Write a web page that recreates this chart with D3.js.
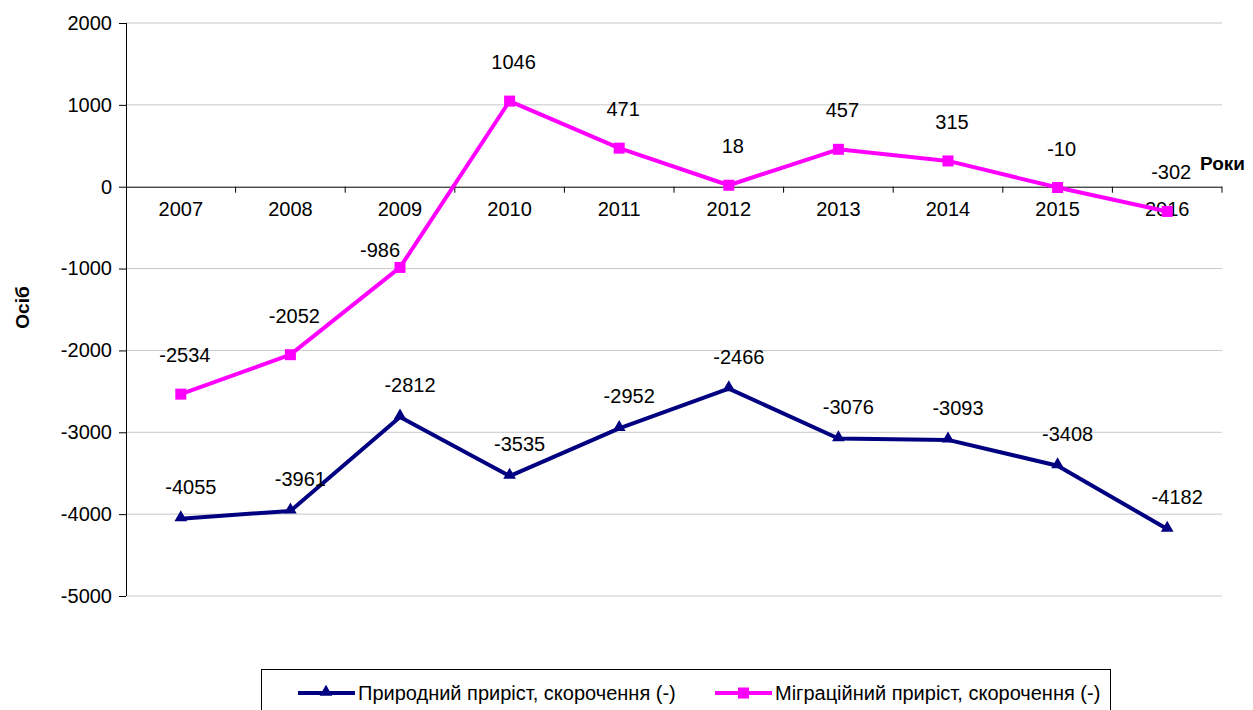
<!DOCTYPE html>
<html>
<head>
<meta charset="utf-8">
<script src="https://cdn.jsdelivr.net/npm/d3@7"></script>
<style>
  body { margin: 0; background: #fff; }
  text { font-family: "Liberation Sans", Arial, sans-serif; }
</style>
</head>
<body>
<div id="chart-area"></div>
<script>
const W = 1253, H = 710
const PLOT = { LEFT: 126, RIGHT: 1222, TOP: 23, BOTTOM: 596 }
const FS = 20

// data
const years = ["2007", "2008", "2009", "2010", "2011", "2012", "2013", "2014", "2015", "2016"]
const natural = [-4055, -3961, -2812, -3535, -2952, -2466, -3076, -3093, -3408, -4182]
const migration = [-2534, -2052, -986, 1046, 471, 18, 457, 315, -10, -302]
const yTicks = [2000, 1000, 0, -1000, -2000, -3000, -4000, -5000]
const seriesNames = ["Природний приріст, скорочення (-)", "Міграційний приріст, скорочення (-)"]

const svg = d3.select("#chart-area").append("svg")
  .attr("width", W)
  .attr("height", H)

const x = d3.scaleBand().domain(years).range([PLOT.LEFT, PLOT.RIGHT])
const y = d3.scaleLinear().domain([-5000, 2000]).range([PLOT.BOTTOM, PLOT.TOP])
const cx = d => x(d) + x.bandwidth() / 2

// gridlines
svg.append("g")
  .selectAll("line")
  .data(yTicks.filter(t => t !== 0))
  .join("line")
  .attr("x1", PLOT.LEFT).attr("x2", PLOT.RIGHT)
  .attr("y1", d => y(d)).attr("y2", d => y(d))
  .attr("stroke", "#c8c8c8")
  .attr("stroke-width", 1)

// y axis
const yAxis = svg.append("g")
  .attr("transform", `translate(${PLOT.LEFT},0)`)
  .call(d3.axisLeft(y).tickValues(yTicks).tickSize(7).tickPadding(7).tickFormat(d => String(d)))
yAxis.select(".domain").attr("stroke", "#000").attr("d", `M0.5,${PLOT.TOP}V${PLOT.BOTTOM}`)
yAxis.selectAll(".tick line").attr("stroke", "#000")
yAxis.selectAll("text").attr("font-size", FS).attr("fill", "#000").attr("font-family", "Liberation Sans, Arial, sans-serif")

// x axis at zero
const xAxis = svg.append("g")
  .attr("transform", `translate(0,${y(0)})`)
  .call(d3.axisBottom(x).tickSize(0).tickPadding(15))
xAxis.select(".domain").attr("stroke", "#000").attr("d", `M${PLOT.LEFT},0.5H${PLOT.RIGHT}`)
xAxis.selectAll("text").attr("font-size", FS).attr("fill", "#000").attr("font-family", "Liberation Sans, Arial, sans-serif")
xAxis.selectAll(".bound")
  .data(years)
  .join("line")
  .attr("x1", d => x(d) + x.bandwidth()).attr("x2", d => x(d) + x.bandwidth())
  .attr("y1", 0).attr("y2", 6)
  .attr("stroke", "#000")

// axis titles
svg.append("text")
  .attr("transform", `translate(29,${y(-1500) - 2}) rotate(-90)`)
  .attr("text-anchor", "middle")
  .attr("font-size", 19)
  .attr("font-weight", "bold")
  .text("Осіб")

svg.append("text")
  .attr("x", 1200).attr("y", 170)
  .attr("font-size", 19)
  .attr("font-weight", "bold")
  .text("Роки")

const line = d3.line().x((d, i) => cx(years[i])).y(d => y(d))

// migration
svg.append("path")
  .datum(migration)
  .attr("d", line)
  .attr("fill", "none")
  .attr("stroke", "#ff00ff")
  .attr("stroke-width", 4)
  .attr("stroke-linejoin", "round")
svg.selectAll(".msq")
  .data(migration)
  .join("rect")
  .attr("x", (d, i) => cx(years[i]) - 5.5)
  .attr("y", d => y(d) - 5.5)
  .attr("width", 11).attr("height", 11)
  .attr("fill", "#ff00ff")

// natural
svg.append("path")
  .datum(natural)
  .attr("d", line)
  .attr("fill", "none")
  .attr("stroke", "#000080")
  .attr("stroke-width", 4)
  .attr("stroke-linejoin", "round")
const tri = d3.symbol().type(d3.symbolTriangle).size(70)
svg.selectAll(".ntri")
  .data(natural)
  .join("path")
  .attr("d", tri)
  .attr("transform", (d, i) => `translate(${cx(years[i])},${y(d) - 1})`)
  .attr("fill", "#000080")

// data labels (the 2009 migration label sits left of its point)
const moved = { "2009": [-24, 22] }
svg.selectAll(".mlab")
  .data(migration)
  .join("text")
  .attr("x", (d, i) => cx(years[i]) + 4 + (moved[years[i]] ? moved[years[i]][0] : 0))
  .attr("y", (d, i) => y(d) - 32 + (moved[years[i]] ? moved[years[i]][1] : 0))
  .attr("text-anchor", "middle")
  .attr("font-size", FS)
  .text(d => d)

svg.selectAll(".nlab")
  .data(natural)
  .join("text")
  .attr("x", (d, i) => cx(years[i]) + 10)
  .attr("y", d => y(d) - 25)
  .attr("text-anchor", "middle")
  .attr("font-size", FS)
  .text(d => d)

// legend
const lg = svg.append("g").attr("transform", "translate(261,669)")
lg.append("rect")
  .attr("x", 0.5).attr("y", 0.5)
  .attr("width", 849).attr("height", 60)
  .attr("fill", "none")
  .attr("stroke", "#000")
const colors = ["#000080", "#ff00ff"]
const lx = [37, 454]
seriesNames.forEach((name, i) => {
  const g = lg.append("g").attr("transform", `translate(${lx[i]},24)`)
  g.append("line").attr("x1", 0).attr("x2", 57).attr("stroke", colors[i]).attr("stroke-width", 4)
  if (i === 0) {
    g.append("path").attr("d", tri).attr("transform", "translate(28,-1)").attr("fill", colors[i])
  } else {
    g.append("rect").attr("x", 23).attr("y", -5.5).attr("width", 11).attr("height", 11).attr("fill", colors[i])
  }
  g.append("text")
    .attr("x", 60).attr("y", 7)
    .attr("font-size", FS)
    .text(name)
})
</script>
</body>
</html>
